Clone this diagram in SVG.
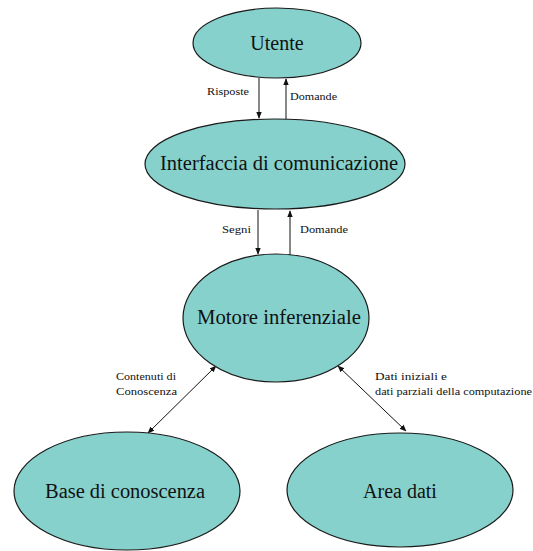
<svg xmlns="http://www.w3.org/2000/svg" width="533" height="551" viewBox="0 0 533 551" font-family="Liberation Serif, DejaVu Serif, serif">
  <style>
    .node { fill: #86d1cc; stroke: #1a1a1a; stroke-width: 1.2; }
    .title { font-size: 20px; fill: #111; text-anchor: middle; }
    .lbl { font-size: 11px; fill: #111; }
    .conn { stroke: #111; stroke-width: 1; fill: none; }
  </style>
  <defs>
    <marker id="arr" viewBox="0 0 10 10" refX="9" refY="5" markerWidth="7" markerHeight="7" orient="auto-start-reverse" markerUnits="userSpaceOnUse">
      <path d="M0,1 L10,5 L0,9 Z" fill="#111"/>
    </marker>
  </defs>
  <rect width="533" height="551" fill="#fff"/>

  <g id="connectors">
    <line class="conn" x1="259" y1="78" x2="259" y2="118" marker-end="url(#arr)"/>
    <line class="conn" x1="286" y1="119" x2="286" y2="79" marker-end="url(#arr)"/>
    <line class="conn" x1="258" y1="210" x2="258" y2="254" marker-end="url(#arr)"/>
    <line class="conn" x1="290" y1="255" x2="290" y2="211" marker-end="url(#arr)"/>
    <line class="conn" x1="216" y1="366" x2="148" y2="433" marker-start="url(#arr)" marker-end="url(#arr)"/>
    <line class="conn" x1="338" y1="366" x2="406" y2="431" marker-start="url(#arr)" marker-end="url(#arr)"/>
    <text class="lbl" x="207" y="95" textLength="42" lengthAdjust="spacingAndGlyphs">Risposte</text>
    <text class="lbl" x="290" y="100" textLength="47" lengthAdjust="spacingAndGlyphs">Domande</text>
    <text class="lbl" x="222" y="233" textLength="29" lengthAdjust="spacingAndGlyphs">Segni</text>
    <text class="lbl" x="300" y="233" textLength="48" lengthAdjust="spacingAndGlyphs">Domande</text>
    <text class="lbl" x="116" y="380" textLength="60" lengthAdjust="spacingAndGlyphs">Contenuti di</text>
    <text class="lbl" x="116" y="395" textLength="61" lengthAdjust="spacingAndGlyphs">Conoscenza</text>
    <text class="lbl" x="375" y="380" textLength="72" lengthAdjust="spacingAndGlyphs">Dati iniziali e</text>
    <text class="lbl" x="375" y="395" textLength="157" lengthAdjust="spacingAndGlyphs">dati parziali della computazione</text>
  </g>

  <g id="utente">
    <ellipse class="node" cx="277" cy="43" rx="84" ry="35"/>
    <text class="title" x="277" y="50">Utente</text>
  </g>
  <g id="interfaccia">
    <ellipse class="node" cx="275" cy="164" rx="130" ry="45"/>
    <text class="title" x="279" y="170" textLength="238" lengthAdjust="spacingAndGlyphs">Interfaccia di comunicazione</text>
  </g>
  <g id="motore">
    <ellipse class="node" cx="276" cy="318" rx="93" ry="64"/>
    <text class="title" x="279" y="324" textLength="164" lengthAdjust="spacingAndGlyphs">Motore inferenziale</text>
  </g>
  <g id="base">
    <ellipse class="node" cx="127" cy="491" rx="113" ry="59"/>
    <text class="title" x="125" y="498" textLength="160" lengthAdjust="spacingAndGlyphs">Base di conoscenza</text>
  </g>
  <g id="area">
    <ellipse class="node" cx="400" cy="490" rx="113" ry="57"/>
    <text class="title" x="400" y="498">Area dati</text>
  </g>
</svg>
